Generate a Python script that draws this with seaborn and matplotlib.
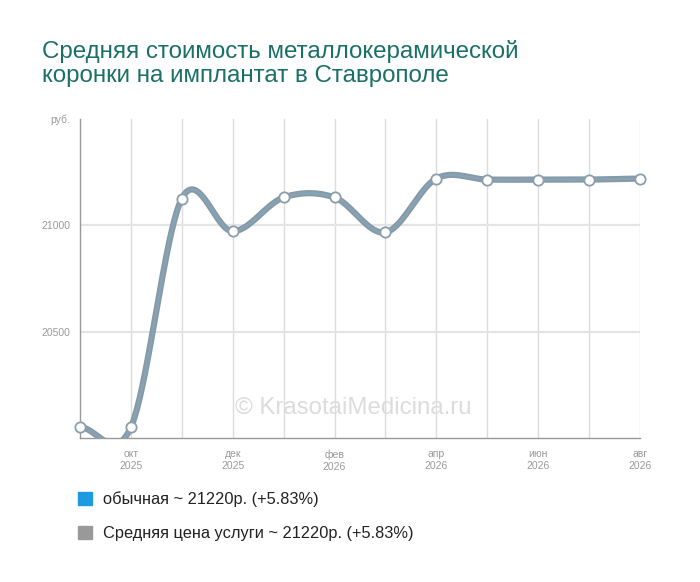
import numpy as np
import pandas as pd
import matplotlib
matplotlib.use("Agg")
import matplotlib.pyplot as plt
from matplotlib.patches import Patch
import seaborn as sns

# Data (Sep 2025 .. Aug 2026)
months = ["сен\n2025", "окт\n2025", "ноя\n2025", "дек\n2025", "янв\n2026", "фев\n2026",
          "мар\n2026", "апр\n2026", "май\n2026", "июн\n2026", "июл\n2026", "авг\n2026"]
prices = [20051, 20051, 21126, 20972, 21131, 21131, 20967, 21220, 21215, 21215, 21215, 21220]
y_ticks = [20500, 21000, 21500]
y_labels = ["20500", "21000", "руб."]
legend_labels = ["обычная ~ 21220р. (+5.83%)", "Средняя цена услуги ~ 21220р. (+5.83%)"]
legend_colors = ["#1e9be0", "#999999"]
title = "Средняя стоимость металлокерамической\nкоронки на имплантат в Ставрополе"

df = pd.DataFrame({"idx": range(len(prices)), "price": prices})


def smooth(x, y, n=40):
    # cardinal (Catmull-Rom) spline, like the original chart's smoothed line
    x = np.asarray(x, float)
    y = np.asarray(y, float)
    m = np.zeros_like(y)
    m[1:-1] = (y[2:] - y[:-2]) / 2
    t = np.linspace(0, 1, n, endpoint=False)
    h00 = 2 * t**3 - 3 * t**2 + 1
    h10 = t**3 - 2 * t**2 + t
    h01 = -2 * t**3 + 3 * t**2
    h11 = t**3 - t**2
    xs, ys = [], []
    for i in range(len(y) - 1):
        xs.append(x[i] + t * (x[i + 1] - x[i]))
        ys.append(h00 * y[i] + h10 * m[i] + h01 * y[i + 1] + h11 * m[i + 1])
    xs.append([x[-1]])
    ys.append([y[-1]])
    return pd.DataFrame({"idx": np.concatenate(xs), "price": np.concatenate(ys)})


curve = smooth(df["idx"], df["price"])

sns.set_style("white")
plt.rcParams["font.family"] = ["Liberation Sans", "DejaVu Sans"]

fig = plt.figure(figsize=(7, 5.82), dpi=100)
ax = fig.add_axes([80 / 700, 1 - 438 / 582, 560 / 700, 319 / 582])

sns.lineplot(data=curve, x="idx", y="price", sort=False, ax=ax,
             color="#8799a6", linewidth=4.5, zorder=3)
sns.lineplot(data=curve, x="idx", y="price", sort=False, ax=ax,
             color="#86a2b5", linewidth=2, zorder=3)
sns.scatterplot(data=df, x="idx", y="price", ax=ax, s=55, color="white",
                edgecolor="#8a9fad", linewidth=1.3, zorder=5, clip_on=False)

ax.set_xlim(0, len(prices) - 1)
ax.set_ylim(20000, 21500)
ax.set_xlabel("")
ax.set_ylabel("")

ax.set_xticks(range(1, len(prices), 2))
ax.set_xticklabels(months[1::2], fontsize=7.5, color="#999999", linespacing=1.25)
ax.set_xticks(range(len(prices)), minor=True)
ax.set_yticks(y_ticks)
ax.set_yticklabels(y_labels, fontsize=7.5, color="#999999")
ax.tick_params(axis="x", which="major", length=5, width=1, color="#999999", pad=3, direction="out")
ax.tick_params(axis="x", which="minor", length=0)
ax.tick_params(axis="y", length=4, width=1, color="#999999", pad=3, direction="out")

ax.grid(False)
for xm in range(1, len(prices)):
    ax.axvline(xm, color="#dcdcdc", linewidth=1, zorder=0)
for yv in y_ticks[:-1]:
    ax.axhline(yv, color="#e4e4e4", linewidth=1.6, zorder=0)

for s in ["top", "right"]:
    ax.spines[s].set_visible(False)
for s in ["left", "bottom"]:
    ax.spines[s].set_color("#999999")
    ax.spines[s].set_linewidth(1)

ax.text(0.4875, 0.094, "© KrasotaiMedicina.ru", transform=ax.transAxes,
        ha="center", va="center", fontsize=17.3, color="#dcdcdc", zorder=1)

fig.text(42 / 700, 1 - 40 / 582, title, ha="left", va="top", fontsize=17.4,
         color="#1a7068", linespacing=1.12)

handles = [Patch(facecolor=c, edgecolor=c) for c in legend_colors]
fig.legend(handles, legend_labels, loc="upper left", bbox_to_anchor=(78 / 700, 1 - 491 / 582),
           frameon=False, fontsize=11.8, handlelength=0.86, handleheight=0.86,
           handletextpad=0.68, labelspacing=1.18, borderpad=0, borderaxespad=0,
           labelcolor="#222222")

fig.savefig("out.png", dpi=100)
